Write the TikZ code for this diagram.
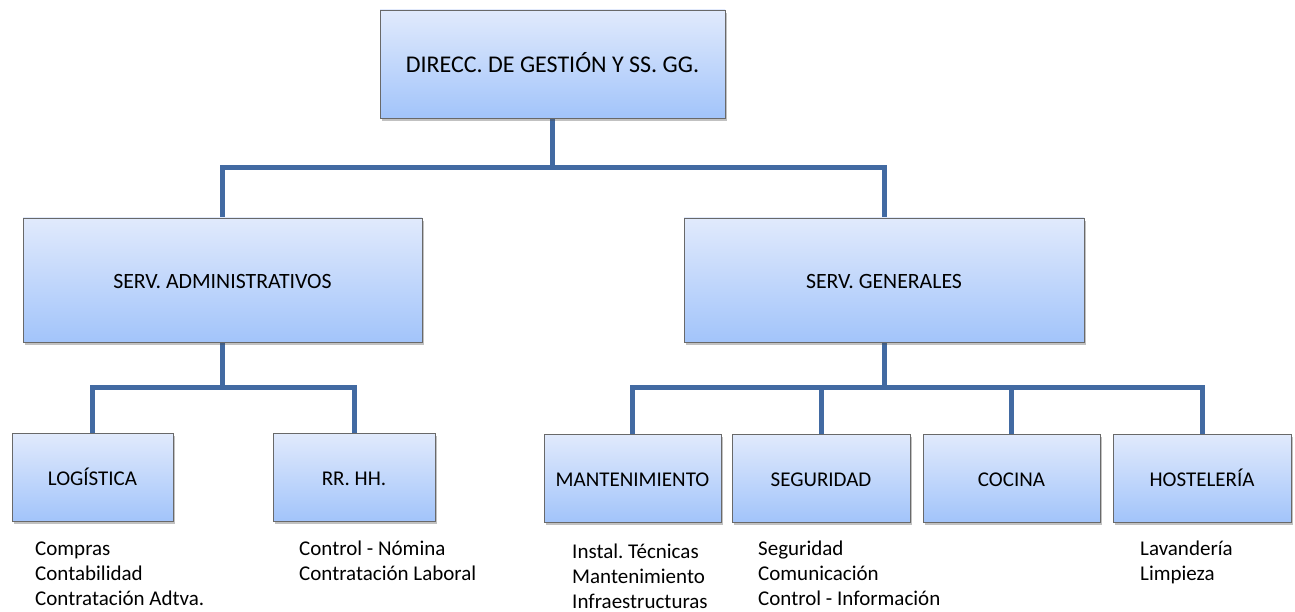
\documentclass[tikz,border=0pt]{standalone}
\usepackage{fontspec}
\setmainfont{Carlito}
\usetikzlibrary{shadows,backgrounds}
\frenchspacing
\definecolor{linecol}{RGB}{66,106,162}
\definecolor{boxtop}{RGB}{225,234,252}
\definecolor{boxbot}{RGB}{162,196,250}
\definecolor{boxline}{RGB}{105,105,105}
\tikzset{
  orgbox/.style={rectangle, draw=boxline, line width=0.8pt, top color=boxtop, bottom color=boxbot,
    inner sep=0pt, font=\fontsize{21}{25}\selectfont, text height=18.5pt, text depth=1.8pt,
    drop shadow={shadow xshift=1.5pt, shadow yshift=-3pt, opacity=0.35, fill=black!70}},
  conn/.style={draw=linecol, line width=5pt, line join=miter},
  sublist/.style={anchor=base west, inner sep=0pt, font=\fontsize{21}{25}\selectfont}
}
\begin{document}
\begin{tikzpicture}[x=1pt,y=-1pt]
\useasboundingbox (0,0) rectangle (1295,612);
% boxes
\node[orgbox, minimum width=345pt, minimum height=108pt, font=\fontsize{24}{28}\selectfont] (top) at (552.5,64) {DIRECC. DE GESTIÓN Y SS. GG.};
\node[orgbox, minimum width=399pt, minimum height=124pt, font=\fontsize{21.8}{26}\selectfont] (adm) at (222.5,280) {SERV. ADMINISTRATIVOS};
\node[orgbox, minimum width=400pt, minimum height=124pt, font=\fontsize{21.8}{26}\selectfont] (gen) at (884,280) {SERV. GENERALES};
\node[orgbox, minimum width=161pt, minimum height=88pt] (log) at (92.5,477) {LOGÍSTICA};
\node[orgbox, minimum width=162pt, minimum height=88pt] (rrhh) at (354,477) {RR. HH.};
\node[orgbox, minimum width=177pt, minimum height=88pt] (mant) at (632.5,478) {MANTENIMIENTO};
\node[orgbox, minimum width=178pt, minimum height=88pt] (seg) at (821,478) {SEGURIDAD};
\node[orgbox, minimum width=177pt, minimum height=88pt] (coc) at (1011.5,478) {COCINA};
\node[orgbox, minimum width=178pt, minimum height=88pt] (host) at (1202,478) {HOSTELERÍA};
% junctions
\coordinate (j1) at (top.south |- {(0,168)});
\coordinate (j2) at (adm.south |- {(0,387)});
\coordinate (j3) at (gen.south |- {(0,387)});
\begin{scope}[on background layer]
\draw[conn] (top.south) -- (j1);
\draw[conn] (adm.north) |- (j1) -| (gen.north);
\draw[conn] (adm.south) -- (j2);
\draw[conn] (log.north) |- (j2) -| (rrhh.north);
\draw[conn] (gen.south) -- (j3);
\draw[conn] (mant.north) |- (j3) -| (host.north);
\draw[conn] (seg.north) |- (j3);
\draw[conn] (coc.north) |- (j3);
\end{scope}
% lists
\node[sublist] (llog) at (35,555) {\begin{tabular}[t]{@{}l@{}}Compras\\Contabilidad\\Contratación Adtva.\end{tabular}};
\node[sublist] (lrrhh) at (299,555) {\begin{tabular}[t]{@{}l@{}}Control - Nómina\\Contratación Laboral\end{tabular}};
\node[sublist] (lmant) at (572,558) {\begin{tabular}[t]{@{}l@{}}Instal. Técnicas\\Mantenimiento\\Infraestructuras\end{tabular}};
\node[sublist] (lseg) at (758,555) {\begin{tabular}[t]{@{}l@{}}Seguridad\\Comunicación\\Control - Información\end{tabular}};
\node[sublist] (lhost) at (1140,555) {\begin{tabular}[t]{@{}l@{}}Lavandería\\Limpieza\end{tabular}};
\end{tikzpicture}
\end{document}
